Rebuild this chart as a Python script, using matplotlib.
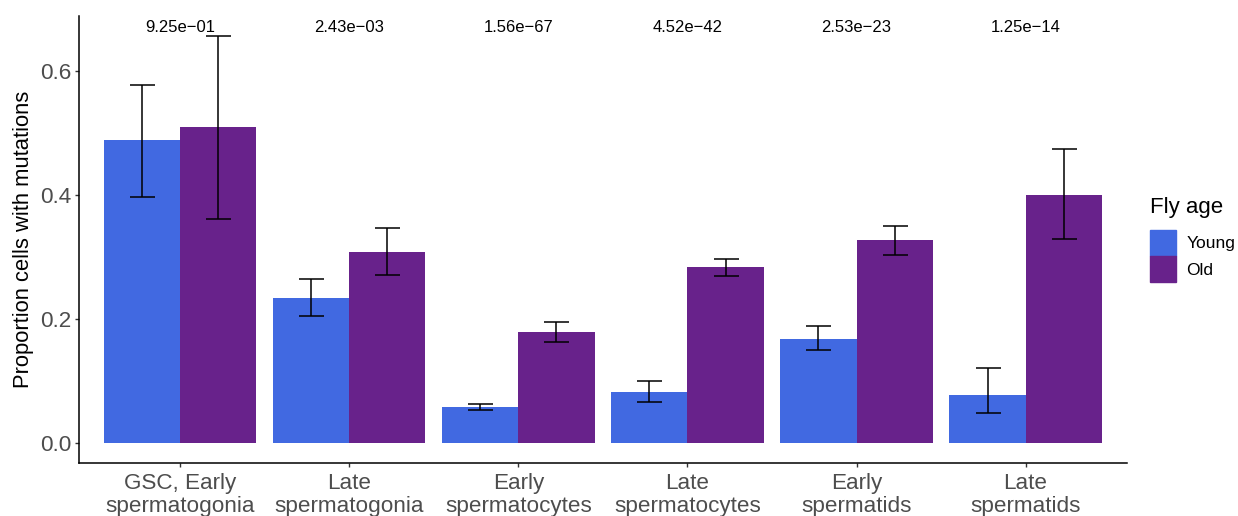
from __future__ import annotations

import matplotlib

matplotlib.use("Agg")
import matplotlib.pyplot as plt
import numpy as np
from matplotlib.patches import Patch


STAGES = [
    "GSC, Early\nspermatogonia",
    "Late\nspermatogonia",
    "Early\nspermatocytes",
    "Late\nspermatocytes",
    "Early\nspermatids",
    "Late\nspermatids",
]
P_VALUES = ["9.25e−01", "2.43e−03", "1.56e−67", "4.52e−42", "2.53e−23", "1.25e−14"]

YOUNG_MEAN = [0.488, 0.234, 0.058, 0.082, 0.168, 0.077]
YOUNG_LOW = [0.397, 0.205, 0.053, 0.066, 0.150, 0.047]
YOUNG_HIGH = [0.577, 0.264, 0.063, 0.100, 0.189, 0.121]

OLD_MEAN = [0.510, 0.308, 0.179, 0.284, 0.327, 0.400]
OLD_LOW = [0.361, 0.270, 0.163, 0.269, 0.303, 0.329]
OLD_HIGH = [0.656, 0.346, 0.195, 0.297, 0.350, 0.474]

YOUNG_COLOR = "#4169E1"
OLD_COLOR = "#68228B"
TEXT_GREY = "#4D4D4D"


def draw_group(ax, x, mean, low, high, color):
    mean = np.asarray(mean)
    err = np.vstack([mean - np.asarray(low), np.asarray(high) - mean])
    ax.bar(x, mean, width=0.45, color=color, linewidth=0)
    ax.errorbar(x, mean, yerr=err, fmt="none", ecolor="black", elinewidth=1.1,
                capsize=9, capthick=1.1)


def main() -> None:
    plt.rcParams["font.family"] = ["Liberation Sans", "DejaVu Sans"]
    fig = plt.figure(figsize=(12.38, 5.16), dpi=100)
    ax = fig.add_axes([0.0638, 0.1027, 0.8465, 0.8663])

    pos = np.arange(1, len(STAGES) + 1)
    draw_group(ax, pos - 0.225, YOUNG_MEAN, YOUNG_LOW, YOUNG_HIGH, YOUNG_COLOR)
    draw_group(ax, pos + 0.225, OLD_MEAN, OLD_LOW, OLD_HIGH, OLD_COLOR)

    for x, label in zip(pos, P_VALUES):
        ax.text(x, 0.671, label, ha="center", va="center", fontsize=12, color="black")

    ax.set_xlim(0.4, 6.6)
    ax.set_ylim(-0.033, 0.689)
    ax.set_yticks([0.0, 0.2, 0.4, 0.6])
    ax.set_yticklabels(["0.0", "0.2", "0.4", "0.6"])
    ax.set_xticks(pos)
    ax.set_xticklabels(STAGES, linespacing=1.09)
    ax.tick_params(axis="both", labelsize=16.2, labelcolor=TEXT_GREY, color="#333333",
                   length=3, width=1, pad=2.5)
    ax.tick_params(axis="x", pad=4.5)
    for side in ("top", "right"):
        ax.spines[side].set_visible(False)
    for side in ("left", "bottom"):
        ax.spines[side].set_linewidth(1.1)
    ax.set_ylabel("Proportion cells with mutations", fontsize=15.8, labelpad=4)

    handles = [Patch(color=YOUNG_COLOR, label="Young"), Patch(color=OLD_COLOR, label="Old")]
    leg = fig.legend(handles=handles, title="Fly age", loc="upper left",
                     bbox_to_anchor=(0.929, 0.618), frameon=False, fontsize=12.5,
                     title_fontsize=16, handlelength=1.5, handleheight=1.93,
                     labelspacing=0.0, handletextpad=0.6, borderpad=0.0,
                     borderaxespad=0.0)
    leg._legend_box.align = "left"
    leg._legend_box.sep = 8.5

    fig.savefig("out.png", dpi=100)
    plt.close(fig)


if __name__ == "__main__":
    main()
